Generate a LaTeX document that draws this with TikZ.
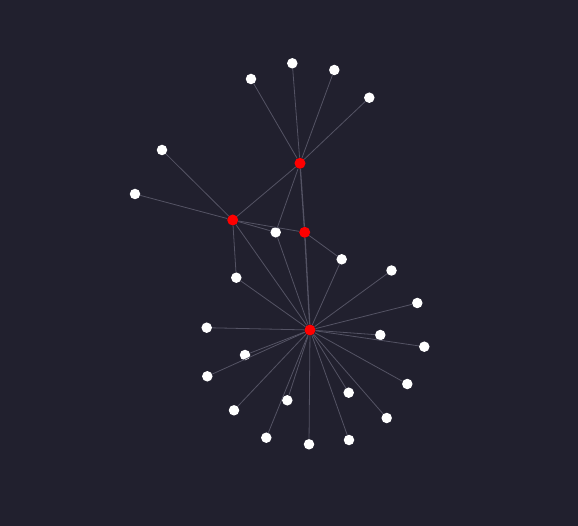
\documentclass[tikz,border=0pt]{standalone}
\definecolor{bg}{RGB}{33,32,46}
\definecolor{edgecol}{RGB}{84,83,100}
\definecolor{hub}{RGB}{255,0,0}
\tikzset{
  hubnode/.style={circle,fill=hub,draw=none,minimum size=11pt,inner sep=0pt},
  leaf/.style={circle,fill=white,draw=none,minimum size=10.5pt,inner sep=0pt},
  link/.style={draw=edgecol,line width=0.8pt},
  strong/.style={draw=edgecol,line width=1.3pt}
}
\begin{document}
\begin{tikzpicture}[x=1pt,y=-1pt]
\fill[bg] (0,0) rectangle (578,526);
\useasboundingbox (0,0) rectangle (578,526);
% hubs
\node[hubnode] (A) at (300,163.3) {};
\node[hubnode] (B) at (232.7,220) {};
\node[hubnode] (C) at (304.7,232.3) {};
\node[hubnode] (D) at (310,330) {};
% leaves
\node[leaf] (a1) at (251,79) {};
\node[leaf] (a2) at (292.3,63.3) {};
\node[leaf] (a3) at (334.3,70) {};
\node[leaf] (a4) at (369.3,97.7) {};
\node[leaf] (b1) at (162,150) {};
\node[leaf] (b2) at (135,194) {};
\node[leaf] (w) at (275.7,232.3) {};
\node[leaf] (b3) at (236.3,277.7) {};
\node[leaf] (c1) at (341.7,259.3) {};
\node[leaf] (d1) at (391.5,270.5) {};
\node[leaf] (d2) at (417.3,303) {};
\node[leaf] (d3) at (380.3,335) {};
\node[leaf] (d4) at (424.3,346.7) {};
\node[leaf] (d5) at (407.3,384) {};
\node[leaf] (d6) at (386.7,418) {};
\node[leaf] (d7) at (348.7,392.7) {};
\node[leaf] (d8) at (349,440) {};
\node[leaf] (d9) at (309,444.3) {};
\node[leaf] (d10) at (266.3,437.7) {};
\node[leaf] (d11) at (287.3,400.3) {};
\node[leaf] (d12) at (234,410.3) {};
\node[leaf] (d13) at (207.3,376.3) {};
\node[leaf] (d14) at (245,355) {};
\node[leaf] (d15) at (206.7,327.7) {};
% edges
\foreach \s/\t in {A/a1,A/a2,A/a3,A/a4,A/B,A/w,
  B/b1,B/b2,B/w,B/C,B/b3,B/D,w/D,C/c1,c1/D,b3/D,
  D/d1,D/d2,D/d3,D/d4,D/d5,D/d6,D/d7,D/d8,D/d9,D/d10,D/d11,D/d12,D/d13,D/d14,D/d15}
  \draw[link] (\s) -- (\t);
\draw[strong] (A) -- (C);
\draw[strong] (C) -- (D);
\end{tikzpicture}
\end{document}
